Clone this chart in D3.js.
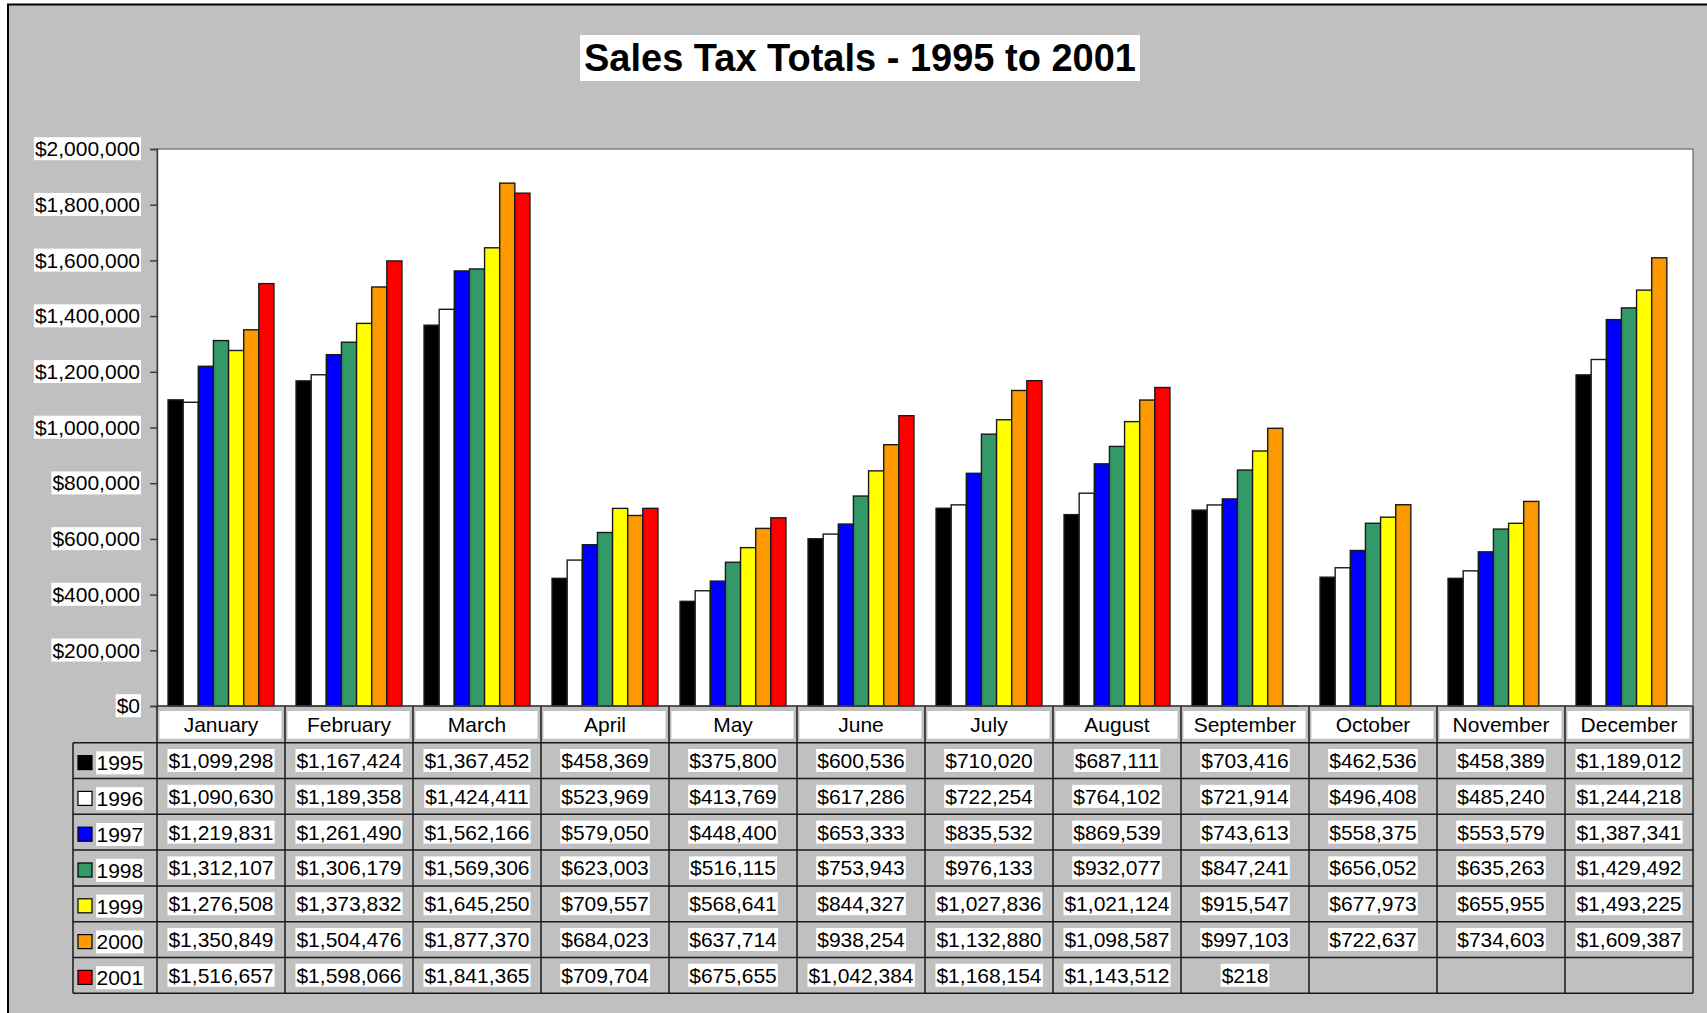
<!DOCTYPE html>
<html>
<head>
<meta charset="utf-8">
<script src="https://cdn.jsdelivr.net/npm/d3@7"></script>
<style>
  body { margin: 0; background: #fff; }
  text { font-family: "Liberation Sans", Arial, sans-serif; fill: #000; }
</style>
</head>
<body>
<svg id="chart" width="1707" height="1013"></svg>
<script>
'use strict';

var months = ['January', 'February', 'March', 'April', 'May', 'June', 'July',
  'August', 'September', 'October', 'November', 'December'];
var years = ['1995', '1996', '1997', '1998', '1999', '2000', '2001'];
var colors = ['#000000', '#ffffff', '#0000ff', '#339966', '#ffff00', '#ff9900', '#ff0000'];
var yTicks = [0, 200000, 400000, 600000, 800000, 1000000, 1200000, 1400000,
  1600000, 1800000, 2000000];

var s1995 = [1099298, 1167424, 1367452, 458369, 375800, 600536, 710020, 687111, 703416, 462536, 458389, 1189012];
var s1996 = [1090630, 1189358, 1424411, 523969, 413769, 617286, 722254, 764102, 721914, 496408, 485240, 1244218];
var s1997 = [1219831, 1261490, 1562166, 579050, 448400, 653333, 835532, 869539, 743613, 558375, 553579, 1387341];
var s1998 = [1312107, 1306179, 1569306, 623003, 516115, 753943, 976133, 932077, 847241, 656052, 635263, 1429492];
var s1999 = [1276508, 1373832, 1645250, 709557, 568641, 844327, 1027836, 1021124, 915547, 677973, 655955, 1493225];
var s2000 = [1350849, 1504476, 1877370, 684023, 637714, 938254, 1132880, 1098587, 997103, 722637, 734603, 1609387];
var s2001 = [1516657, 1598066, 1841365, 709704, 675655, 1042384, 1168154, 1143512, 218, null, null, null];

var series = [s1995, s1996, s1997, s1998, s1999, s2000, s2001];

var svg = d3.select('#chart');
var plot = {left: 157, top: 149, right: 1693, bottom: 706};
var tbl = {left: 73, top: 742.7, bottom: 993.3};
var fmt = d3.format('$,');

// chart area
svg.append('rect')
  .attr('x', 8).attr('y', 4.5)
  .attr('width', 1740).attr('height', 1040)
  .attr('fill', '#c0c0c0')
  .attr('stroke', '#000')
  .attr('stroke-width', 2);

// text with a white box behind it
function boxed(g, x, y, txt, anchor, size, weight, padX, padY) {
  var t = g.append('text')
    .attr('x', x).attr('y', y)
    .attr('text-anchor', anchor)
    .attr('font-size', size)
    .attr('font-weight', weight || 'normal')
    .text(txt);
  var b = t.node().getBBox();
  g.insert('rect', function () { return t.node(); })
    .attr('x', b.x - padX).attr('y', b.y - padY)
    .attr('width', b.width + 2 * padX).attr('height', b.height + 2 * padY)
    .attr('fill', '#fff');
  return t;
}

// title
boxed(svg.append('g'), 860, 71, 'Sales Tax Totals - 1995 to 2001', 'middle', 38, 'bold', 4, 2);

var x0 = d3.scaleBand()
  .domain(months)
  .range([plot.left, plot.right]);

var x1 = d3.scaleBand()
  .domain(years)
  .range([0, x0.bandwidth()])
  .paddingOuter(0.73);

var y = d3.scaleLinear()
  .domain([0, 2000000])
  .range([plot.bottom, plot.top]);

var rowY = d3.scaleBand()
  .domain(years)
  .range([tbl.top, tbl.bottom]);

// plot area
svg.append('rect')
  .attr('x', plot.left).attr('y', plot.top)
  .attr('width', plot.right - plot.left).attr('height', plot.bottom - plot.top)
  .attr('fill', '#fff')
  .attr('stroke', '#808080')
  .attr('stroke-width', 1.5);

// bars
var barData = [];
series.forEach(function (s, i) {
  s.forEach(function (v, j) {
    if (v !== null) barData.push({year: years[i], month: months[j], value: v, color: colors[i]});
  });
});

svg.append('g')
  .selectAll('rect')
  .data(barData)
  .join('rect')
  .attr('x', function (d) { return x0(d.month) + x1(d.year); })
  .attr('y', function (d) { return y(d.value); })
  .attr('width', x1.bandwidth())
  .attr('height', function (d) { return y(0) - y(d.value); })
  .attr('fill', function (d) { return d.color; })
  .attr('stroke', '#1a1a1a')
  .attr('stroke-width', 1.4);

// y axis
var yAxis = svg.append('g')
  .attr('transform', 'translate(' + plot.left + ',0)')
  .call(d3.axisLeft(y).tickValues(yTicks).tickSize(7).tickPadding(10)
    .tickFormat(function (d) { return fmt(d); }));
yAxis.attr('font-size', 21).attr('font-family', null);
yAxis.select('.domain').attr('stroke', '#404040').attr('stroke-width', 1.5);
yAxis.selectAll('.tick line').attr('stroke', '#404040').attr('stroke-width', 1.5);
yAxis.selectAll('.tick text').each(function () {
  var t = d3.select(this);
  var b = this.getBBox();
  d3.select(this.parentNode).insert('rect', 'text')
    .attr('x', b.x - 1).attr('y', b.y)
    .attr('width', b.width + 2).attr('height', b.height)
    .attr('fill', '#fff');
  t.attr('fill', '#000');
});

// data table
var grid = svg.append('g').attr('stroke', '#1a1a1a').attr('stroke-width', 1.5);

// horizontal rules
grid.selectAll('line.h')
  .data(years.concat(['end']))
  .join('line')
  .attr('x1', tbl.left).attr('x2', plot.right)
  .attr('y1', function (d) { return d === 'end' ? tbl.bottom : rowY(d); })
  .attr('y2', function (d) { return d === 'end' ? tbl.bottom : rowY(d); });

// vertical rules
grid.selectAll('line.v')
  .data(months.concat(['end']))
  .join('line')
  .attr('x1', function (d) { return d === 'end' ? plot.right : x0(d); })
  .attr('x2', function (d) { return d === 'end' ? plot.right : x0(d); })
  .attr('y1', plot.bottom).attr('y2', tbl.bottom);

grid.append('line')
  .attr('x1', tbl.left).attr('x2', tbl.left)
  .attr('y1', tbl.top).attr('y2', tbl.bottom);

// x axis line
svg.append('line')
  .attr('x1', plot.left).attr('x2', plot.right)
  .attr('y1', plot.bottom).attr('y2', plot.bottom)
  .attr('stroke', '#404040').attr('stroke-width', 1.5);

// month header cells
var head = svg.append('g');
months.forEach(function (m) {
  head.append('rect')
    .attr('x', x0(m) + 2.5).attr('y', plot.bottom + 5)
    .attr('width', x0.bandwidth() - 6).attr('height', tbl.top - plot.bottom - 9)
    .attr('fill', '#fff');
  head.append('text')
    .attr('x', x0(m) + x0.bandwidth() / 2)
    .attr('y', (plot.bottom + tbl.top) / 2 + 7.6)
    .attr('text-anchor', 'middle')
    .attr('font-size', 21)
    .text(m);
});

// legend column and values
var cells = svg.append('g');
years.forEach(function (yr, i) {
  var cy = rowY(yr) + rowY.bandwidth() / 2;
  cells.append('rect')
    .attr('x', 78).attr('y', cy - 5)
    .attr('width', 14).attr('height', 14)
    .attr('fill', colors[i])
    .attr('stroke', '#000').attr('stroke-width', 1.2);
  boxed(cells, 96.5, cy + 9.8, yr, 'start', 21, 'normal', 0.5, 0);

  series[i].forEach(function (v, j) {
    if (v === null) return;
    boxed(cells, x0(months[j]) + x0.bandwidth() / 2, cy + 7.4, fmt(v), 'middle', 21, 'normal', 1, 0);
  });
});
</script>
</body>
</html>
